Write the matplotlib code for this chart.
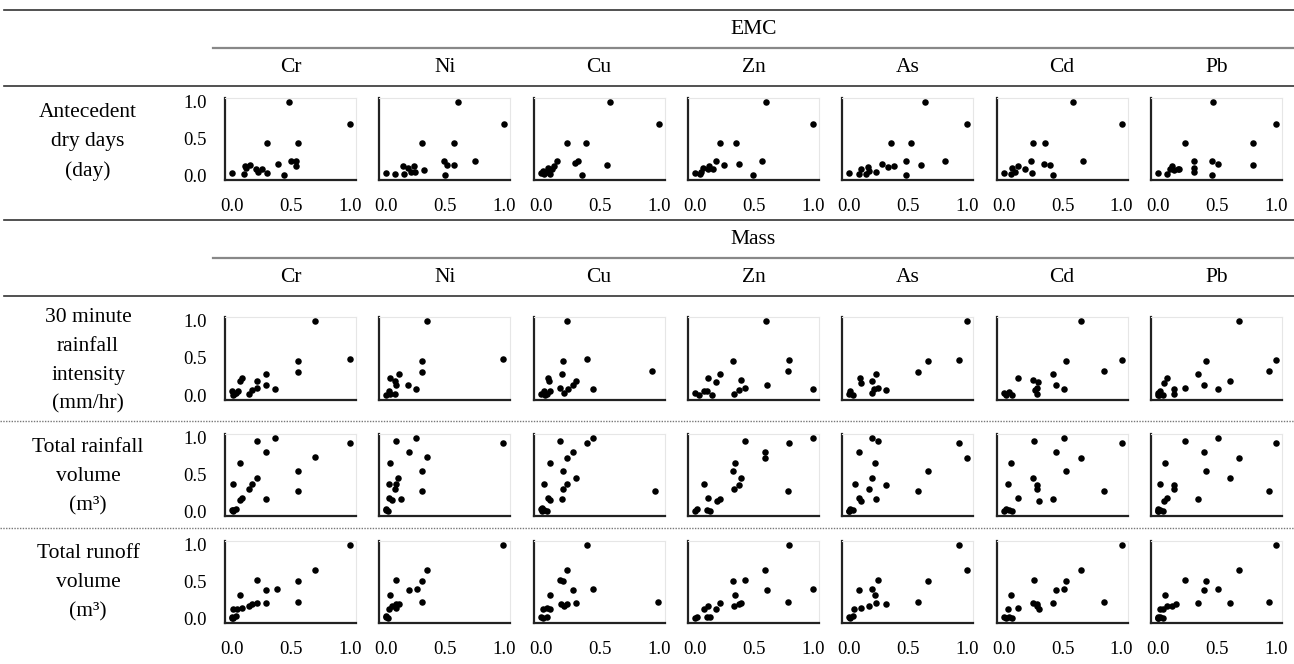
import matplotlib
matplotlib.use("Agg")
import matplotlib.pyplot as plt
from matplotlib.lines import Line2D

plt.rcParams['font.family'] = ['Liberation Serif', 'DejaVu Serif']

metals = ['Cr', 'Ni', 'Cu', 'Zn', 'As', 'Cd', 'Pb']
row_labels = ['Antecedent\ndry days\n(day)',
              '30 minute\nrainfall\nintensity\n(mm/hr)',
              'Total rainfall\nvolume\n(m³)',
              'Total runoff\nvolume\n(m³)']
ticks = [0.0, 0.5, 1.0]
tick_labels = ['0.0', '0.5', '1.0']

# EMC vs antecedent dry days (normalised)
dry_x = [
    [0.48, 1.0, 0.30, 0.56, 0.0, 0.10, 0.11, 0.15, 0.20, 0.22, 0.25, 0.30, 0.39, 0.44, 0.50, 0.54, 0.54, 0.12],
    [0.61, 1.0, 0.30, 0.57, 0.0, 0.07, 0.14, 0.15, 0.18, 0.21, 0.23, 0.24, 0.32, 0.49, 0.51, 0.57, 0.50, 0.75],
    [0.59, 1.0, 0.22, 0.38, 0.0, 0.03, 0.05, 0.06, 0.08, 0.10, 0.11, 0.14, 0.29, 0.32, 0.35, 0.56, 0.02],
    [0.60, 1.0, 0.21, 0.35, 0.0, 0.04, 0.05, 0.07, 0.11, 0.12, 0.15, 0.18, 0.25, 0.37, 0.49, 0.57],
    [0.64, 1.0, 0.35, 0.52, 0.0, 0.08, 0.10, 0.14, 0.16, 0.17, 0.23, 0.28, 0.33, 0.38, 0.48, 0.48, 0.61, 0.81],
    [0.59, 1.0, 0.25, 0.35, 0.0, 0.06, 0.07, 0.10, 0.12, 0.18, 0.23, 0.24, 0.34, 0.39, 0.42, 0.67],
    [0.47, 1.0, 0.23, 0.81, 0.0, 0.08, 0.10, 0.12, 0.14, 0.17, 0.18, 0.31, 0.31, 0.31, 0.46, 0.46, 0.51, 0.81],
]
dry_y = [
    [1.0, 0.70, 0.44, 0.44, 0.03, 0.02, 0.13, 0.14, 0.08, 0.05, 0.08, 0.03, 0.15, 0.0, 0.20, 0.19, 0.13, 0.10],
    [1.0, 0.70, 0.44, 0.44, 0.03, 0.02, 0.13, 0.02, 0.10, 0.05, 0.12, 0.04, 0.07, 0.20, 0.14, 0.14, 0.0, 0.19],
    [1.0, 0.70, 0.44, 0.44, 0.03, 0.01, 0.05, 0.10, 0.02, 0.08, 0.12, 0.20, 0.16, 0.19, 0.0, 0.14, 0.06],
    [1.0, 0.70, 0.44, 0.44, 0.03, 0.01, 0.05, 0.10, 0.08, 0.12, 0.09, 0.20, 0.14, 0.15, 0.0, 0.19],
    [1.0, 0.70, 0.44, 0.44, 0.03, 0.01, 0.09, 0.02, 0.11, 0.06, 0.04, 0.15, 0.11, 0.13, 0.20, 0.0, 0.14, 0.19],
    [1.0, 0.70, 0.44, 0.44, 0.03, 0.01, 0.10, 0.05, 0.12, 0.08, 0.20, 0.03, 0.15, 0.14, 0.0, 0.19],
    [1.0, 0.70, 0.44, 0.44, 0.03, 0.01, 0.09, 0.13, 0.07, 0.09, 0.08, 0.20, 0.10, 0.04, 0.19, 0.0, 0.15, 0.14],
]

# Mass vs 30 minute rainfall intensity
int_x = [
    [0.70, 1.0, 0.56, 0.56, 0.08, 0.07, 0.29, 0.21, 0.29, 0.21, 0.17, 0.14, 0.36, 0.0, 0.01, 0.03, 0.05, 0.02],
    [0.34, 0.99, 0.30, 0.30, 0.03, 0.11, 0.07, 0.08, 0.18, 0.25, 0.02, 0.0, 0.03, 0.07],
    [0.22, 0.39, 0.19, 0.18, 0.06, 0.07, 0.16, 0.30, 0.27, 0.23, 0.20, 0.44, 0.0, 0.03, 0.05, 0.08, 0.04, 0.94],
    [0.60, 0.80, 0.79, 0.32, 0.11, 0.21, 0.18, 0.39, 0.42, 0.37, 0.33, 0.61, 1.0, 0.0, 0.03, 0.08, 0.10, 0.14],
    [1.0, 0.93, 0.67, 0.58, 0.09, 0.10, 0.19, 0.23, 0.21, 0.19, 0.24, 0.31, 0.0, 0.01, 0.03],
    [0.66, 1.0, 0.53, 0.85, 0.42, 0.12, 0.25, 0.29, 0.28, 0.27, 0.28, 0.44, 0.51, 0.0, 0.02, 0.05, 0.07],
    [0.69, 1.0, 0.94, 0.41, 0.34, 0.08, 0.05, 0.39, 0.51, 0.61, 0.23, 0.14, 0.14, 0.0, 0.0, 0.02, 0.04, 0.01],
]
int_y = [
    [1.0, 0.48, 0.46, 0.31, 0.23, 0.19, 0.28, 0.19, 0.13, 0.10, 0.07, 0.02, 0.08, 0.05, 0.0, 0.03, 0.05, 0.01],
    [1.0, 0.48, 0.46, 0.31, 0.23, 0.28, 0.19, 0.13, 0.13, 0.08, 0.05, 0.0, 0.02, 0.02],
    [1.0, 0.48, 0.46, 0.28, 0.23, 0.19, 0.10, 0.19, 0.13, 0.08, 0.03, 0.08, 0.02, 0.05, 0.02, 0.05, 0.0, 0.32],
    [1.0, 0.47, 0.32, 0.46, 0.23, 0.28, 0.18, 0.20, 0.10, 0.07, 0.02, 0.13, 0.08, 0.03, 0.0, 0.05, 0.05, 0.0],
    [1.0, 0.47, 0.46, 0.31, 0.23, 0.17, 0.19, 0.28, 0.08, 0.03, 0.10, 0.07, 0.02, 0.05, 0.0],
    [1.0, 0.47, 0.46, 0.32, 0.28, 0.23, 0.20, 0.18, 0.10, 0.07, 0.01, 0.13, 0.08, 0.03, 0.0, 0.04, 0.0],
    [1.0, 0.47, 0.32, 0.46, 0.28, 0.23, 0.17, 0.13, 0.08, 0.19, 0.10, 0.08, 0.01, 0.0, 0.03, 0.05, 0.0, 0.0],
]

# Mass vs total rainfall volume
rain_x = [
    [0.21, 0.36, 0.29, 1.0, 0.70, 0.07, 0.56, 0.01, 0.17, 0.14, 0.21, 0.07, 0.08, 0.29, 0.56, 0.0, 0.01, 0.03, 0.01],
    [0.08, 0.25, 0.19, 0.99, 0.34, 0.03, 0.30, 0.02, 0.08, 0.07, 0.10, 0.30, 0.02, 0.05, 0.12, 0.0, 0.01, 0.0],
    [0.16, 0.39, 0.44, 0.27, 0.22, 0.08, 0.19, 0.30, 0.22, 0.19, 0.03, 0.06, 0.08, 0.18, 0.0, 0.01, 0.03, 0.05, 0.01, 0.97],
    [1.0, 0.80, 0.42, 0.59, 0.59, 0.34, 0.32, 0.39, 0.37, 0.33, 0.08, 0.79, 0.11, 0.19, 0.21, 0.0, 0.02, 0.10, 0.13],
    [0.19, 0.24, 0.93, 1.0, 0.08, 0.22, 0.67, 0.19, 0.05, 0.31, 0.17, 0.58, 0.08, 0.10, 0.23, 0.0, 0.01, 0.03, 0.0],
    [0.26, 0.51, 1.0, 0.44, 0.66, 0.06, 0.53, 0.25, 0.28, 0.28, 0.04, 0.85, 0.12, 0.30, 0.42, 0.0, 0.02, 0.05, 0.07],
    [0.23, 0.51, 1.0, 0.39, 0.69, 0.06, 0.41, 0.61, 0.02, 0.14, 0.14, 0.94, 0.08, 0.05, 0.34, 0.0, 0.0, 0.02, 0.04, 0.0],
]
rain_y = [
    [0.96, 1.0, 0.80, 0.93, 0.74, 0.65, 0.55, 0.37, 0.37, 0.30, 0.45, 0.15, 0.18, 0.16, 0.28, 0.02, 0.01, 0.03, 0.0],
    [0.96, 1.0, 0.80, 0.93, 0.74, 0.65, 0.55, 0.37, 0.37, 0.30, 0.45, 0.28, 0.18, 0.15, 0.16, 0.03, 0.0, 0.01],
    [0.96, 0.93, 1.0, 0.80, 0.73, 0.65, 0.55, 0.45, 0.37, 0.30, 0.37, 0.18, 0.15, 0.16, 0.03, 0.05, 0.01, 0.0, 0.0, 0.28],
    [1.0, 0.93, 0.96, 0.80, 0.73, 0.65, 0.55, 0.45, 0.36, 0.30, 0.37, 0.28, 0.18, 0.14, 0.16, 0.0, 0.03, 0.01, 0.0],
    [1.0, 0.96, 0.93, 0.73, 0.80, 0.65, 0.55, 0.45, 0.37, 0.36, 0.30, 0.28, 0.18, 0.14, 0.16, 0.0, 0.03, 0.01, 0.0],
    [0.96, 1.0, 0.93, 0.80, 0.73, 0.65, 0.55, 0.45, 0.36, 0.30, 0.37, 0.28, 0.18, 0.14, 0.16, 0.0, 0.03, 0.01, 0.0],
    [0.96, 1.0, 0.93, 0.80, 0.73, 0.65, 0.55, 0.45, 0.37, 0.36, 0.30, 0.28, 0.18, 0.14, 0.16, 0.03, 0.0, 0.01, 0.0, 0.0],
]

# Mass vs total runoff volume
runoff_x = [
    [1.0, 0.70, 0.56, 0.56, 0.21, 0.29, 0.38, 0.29, 0.21, 0.17, 0.14, 0.08, 0.04, 0.01, 0.07, 0.0, 0.01, 0.03, 0.0],
    [0.99, 0.34, 0.30, 0.30, 0.08, 0.19, 0.26, 0.03, 0.02, 0.05, 0.08, 0.11, 0.08, 0.0, 0.01, 0.0],
    [0.39, 0.22, 0.16, 0.19, 0.27, 0.44, 0.08, 0.17, 0.20, 0.22, 0.30, 0.02, 0.05, 0.08, 0.0, 0.02, 0.05, 0.99],
    [0.80, 0.59, 0.32, 0.42, 0.61, 1.0, 0.34, 0.79, 0.39, 0.37, 0.33, 0.21, 0.18, 0.11, 0.08, 0.0, 0.02, 0.10, 0.13],
    [0.93, 1.0, 0.67, 0.58, 0.24, 0.08, 0.19, 0.22, 0.31, 0.23, 0.17, 0.04, 0.10, 0.0, 0.01, 0.03],
    [1.0, 0.66, 0.26, 0.53, 0.51, 0.44, 0.85, 0.42, 0.06, 0.25, 0.28, 0.28, 0.30, 0.12, 0.04, 0.0, 0.02, 0.05, 0.07],
    [1.0, 0.69, 0.23, 0.41, 0.39, 0.51, 0.34, 0.61, 0.94, 0.06, 0.15, 0.08, 0.04, 0.02, 0.12, 0.0, 0.0, 0.02, 0.04, 0.0],
]
runoff_y = [
    [1.0, 0.66, 0.50, 0.22, 0.52, 0.38, 0.40, 0.21, 0.21, 0.19, 0.16, 0.14, 0.12, 0.12, 0.31, 0.01, 0.0, 0.03, 0.0],
    [1.0, 0.66, 0.50, 0.22, 0.52, 0.38, 0.40, 0.31, 0.12, 0.17, 0.19, 0.20, 0.14, 0.01, 0.0, 0.03],
    [1.0, 0.66, 0.52, 0.50, 0.38, 0.40, 0.31, 0.20, 0.16, 0.19, 0.21, 0.12, 0.14, 0.12, 0.01, 0.0, 0.01, 0.22],
    [1.0, 0.66, 0.50, 0.52, 0.38, 0.40, 0.31, 0.22, 0.21, 0.19, 0.16, 0.21, 0.13, 0.16, 0.12, 0.0, 0.02, 0.01, 0.01],
    [1.0, 0.66, 0.50, 0.22, 0.52, 0.38, 0.40, 0.31, 0.20, 0.21, 0.16, 0.12, 0.14, 0.01, 0.0, 0.03],
    [1.0, 0.66, 0.52, 0.50, 0.40, 0.38, 0.22, 0.21, 0.31, 0.21, 0.19, 0.16, 0.13, 0.14, 0.12, 0.01, 0.0, 0.02, 0.0],
    [1.0, 0.66, 0.52, 0.50, 0.38, 0.40, 0.21, 0.21, 0.22, 0.31, 0.19, 0.16, 0.12, 0.13, 0.16, 0.02, 0.0, 0.01, 0.0, 0.0],
]

rows_x = [dry_x, int_x, rain_x, runoff_x]
rows_y = [dry_y, int_y, rain_y, runoff_y]

W, H = 1294, 664
fig = plt.figure(figsize=(W / 100, H / 100), dpi=100)

def fx(p):
    return p / W

def fy(p):
    return 1 - p / H

# panel geometry in pixels
col_left = [225 + 154.3 * k for k in range(7)]
col_w = 131
row_top = [98, 317, 434, 541]
row_bot = [180, 400, 516, 623]
label_y = [142, 361, 477, 583]

for r in range(4):
    for k in range(7):
        ax = fig.add_axes([fx(col_left[k]), fy(row_bot[r]), col_w / W,
                           (row_bot[r] - row_top[r]) / H])
        ax.scatter(rows_x[r][k], rows_y[r][k], s=22, color='black',
                   linewidths=0, zorder=3)
        ax.set_xlim(-0.06, 1.05)
        ax.set_ylim(-0.065, 1.05)
        for side in ['top', 'right']:
            ax.spines[side].set_color('#e6e6e6')
            ax.spines[side].set_linewidth(0.8)
        for side in ['left', 'bottom']:
            ax.spines[side].set_color('#222222')
            ax.spines[side].set_linewidth(1.6)
        if k == 0:
            ax.set_yticks(ticks, tick_labels)
        else:
            ax.set_yticks([])
        if r in (0, 3):
            ax.set_xticks(ticks, tick_labels)
        else:
            ax.set_xticks([])
        ax.tick_params(length=0, labelsize=13.5, pad=13)
    fig.text(fx(88), fy(label_y[r]), row_labels[r], ha='center', va='center',
             fontsize=15.5, linespacing=1.7)

# table rules and headers
def hline(y, x0=0, x1=W, **kw):
    fig.add_artist(Line2D([fx(x0), fx(x1)], [fy(y), fy(y)], **kw))

hline(10, 4, W, color='#333333', lw=1.2)
hline(48, 213, W, color='#888888', lw=1.6)
hline(86, 4, W, color='#333333', lw=1.2)
hline(220, 4, W, color='#333333', lw=1.2)
hline(258, 213, W, color='#888888', lw=1.6)
hline(296, 4, W, color='#333333', lw=1.2)
hline(421, 0, W, color='#777777', lw=1.0, linestyle=(0, (1, 1)))
hline(528, 0, W, color='#777777', lw=1.0, linestyle=(0, (1, 1)))

mid = (col_left[0] + col_left[-1] + col_w) / 2
fig.text(fx(mid), fy(29), 'EMC', ha='center', va='center', fontsize=15.5)
fig.text(fx(mid), fy(239), 'Mass', ha='center', va='center', fontsize=15.5)
for k, m in enumerate(metals):
    cx = col_left[k] + col_w / 2
    fig.text(fx(cx), fy(67), m, ha='center', va='center', fontsize=15.5)
    fig.text(fx(cx), fy(277), m, ha='center', va='center', fontsize=15.5)

fig.savefig('out.png', dpi=100)
